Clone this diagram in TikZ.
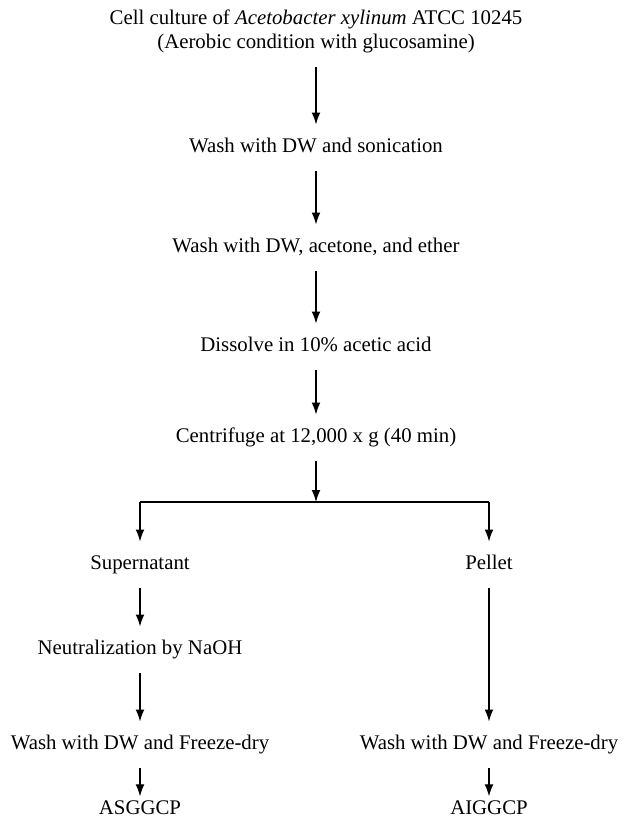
\documentclass[tikz,border=0pt]{standalone}
\usepackage{fontspec}
\setmainfont{Liberation Serif}
\usetikzlibrary{arrows.meta,positioning,calc}

\begin{document}
\begin{tikzpicture}[x=0.025cm,y=-0.025cm,
      head/.style={font=\fontsize{14.8}{17}\selectfont,align=center,inner xsep=2pt,inner ysep=10pt},
      stage/.style={head,text height=10pt,text depth=3pt},
      product/.style={stage,inner ysep=3pt},
      flow/.style={-{Latex[length=3mm,width=2.2mm]},line width=0.9pt},
      bar/.style={line width=0.9pt},
    ]
    \useasboundingbox (0,0) rectangle (628,824);
    % main line
    \node[head] (cult) at (316,31) {Cell culture of \textit{Acetobacter xylinum} ATCC 10245\\(Aerobic condition with glucosamine)};
    \node[stage] (son) at (316,148) {Wash with DW and sonication};
    \node[stage] (ace) at (316,248) {Wash with DW, acetone, and ether};
    \node[stage] (dis) at (316,347) {Dissolve in 10\% acetic acid};
    \node[stage] (cen) at (316,438) {Centrifuge at 12,000 x g (40 min)};
    \coordinate (fork) at (316,502);
    % two branches
    \node[stage] (sup) at (140,565) {Supernatant};
    \node[stage] (pel) at (489,565) {Pellet};
    \node[stage] (neu) at (140,650) {Neutralization by NaOH};
    \node[stage] (lfd) at (140,745) {Wash with DW and Freeze-dry};
    \node[stage] (rfd) at (489,745) {Wash with DW and Freeze-dry};
    \node[product] (asg) at (140,810) {ASGGCP};
    \node[product] (aig) at (489,810) {AIGGCP};
    \foreach \a/\b in {cult/son,son/ace,ace/dis,dis/cen,sup/neu,neu/lfd,lfd/asg,pel/rfd,rfd/aig} {
      \draw[flow] (\a) -- (\b);
    }
    \draw[flow] (cen) -- (fork);
    \draw[bar] (fork -| sup.north) -- (fork -| pel.north);
    \draw[flow] (fork -| sup.north) -- (sup);
    \draw[flow] (fork -| pel.north) -- (pel);
  \end{tikzpicture}
\end{document}
